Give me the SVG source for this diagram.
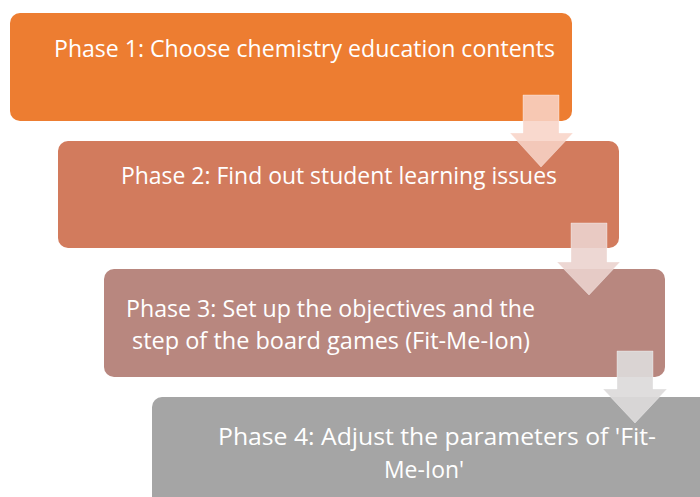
<svg xmlns="http://www.w3.org/2000/svg" width="700" height="497" viewBox="0 0 700 497">
<style>
.t{font-family:"Open Sans","Noto Sans","DejaVu Sans",sans-serif;font-size:23px;fill:#ffffff}
.arr{stroke:#ffffff;stroke-opacity:0.35;stroke-width:1}
</style>
<rect width="700" height="497" fill="#ffffff"/>
<g id="phase1">
<rect x="10" y="13" width="562" height="108" rx="10" fill="#ED7D31"/>
<text class="t" x="54" y="57" textLength="501" lengthAdjust="spacingAndGlyphs">Phase 1: Choose chemistry education contents</text>
</g>
<g id="phase2">
<rect x="58" y="141" width="561" height="107" rx="10" fill="#D27B5D"/>
<text class="t" x="121" y="184" textLength="436" lengthAdjust="spacingAndGlyphs">Phase 2: Find out student learning issues</text>
</g>
<g id="phase3">
<rect x="104" y="269" width="561" height="108" rx="10" fill="#B8877F"/>
<text class="t" x="126" y="317" textLength="409" lengthAdjust="spacingAndGlyphs">Phase 3: Set up the objectives and the</text>
<text class="t" x="132" y="349" textLength="398" lengthAdjust="spacingAndGlyphs">step of the board games (Fit-Me-Ion)</text>
</g>
<g id="phase4">
<rect x="152" y="397" width="600" height="150" rx="10" fill="#A5A5A5"/>
<text class="t" x="218" y="445" textLength="438" lengthAdjust="spacingAndGlyphs">Phase 4: Adjust the parameters of 'Fit-</text>
<text class="t" x="384" y="478" textLength="80" lengthAdjust="spacingAndGlyphs">Me-Ion'</text>
</g>
<g id="connectors">
<path class="arr" d="M523,95 H559 V133 H573 L541,167 L510,133 H523 Z" fill="#F8D3C7" fill-opacity="0.87"/>
<path class="arr" d="M571,223 H607 V262 H620 L589,295 L557,262 H571 Z" fill="#EBD3CE" fill-opacity="0.9"/>
<path class="arr" d="M617,351 H653 V389 H667 L635,423 L603,389 H617 Z" fill="#DCDADA" fill-opacity="0.92"/>
</g>
</svg>
